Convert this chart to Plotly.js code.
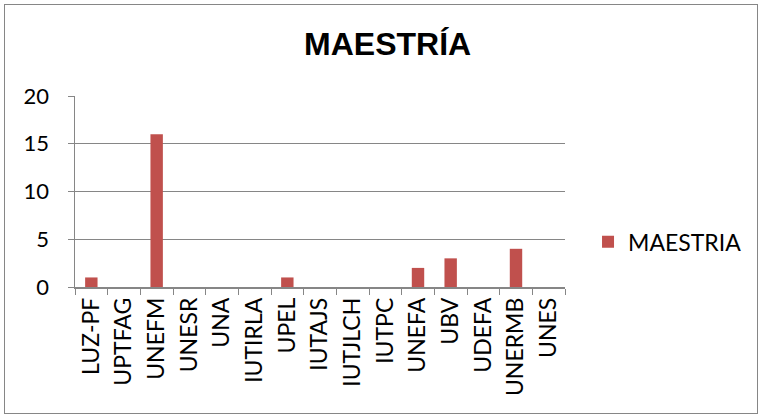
<!DOCTYPE html>
<html>
<head>
<meta charset="utf-8">
<script src="https://cdn.plot.ly/plotly-3.0.1.min.js"></script>
<style>
html,body{margin:0;padding:0;background:#fff;}
#wrap{position:relative;width:763px;height:419px;}
#chart{width:763px;height:419px;}
#frame{position:absolute;left:4px;top:4px;width:752px;height:408px;border:1.5px solid #868686;pointer-events:none;}
</style>
</head>
<body>
<div id="wrap"><div id="chart"></div><div id="frame"></div></div>
<script>
const categories = ["LUZ-PF","UPTFAG","UNEFM","UNESR","UNA","IUTIRLA","UPEL","IUTAJS","IUTJLCH","IUTPC","UNEFA","UBV","UDEFA","UNERMB","UNES"];
const maestria = [1,0,16,0,0,0,1,0,0,0,2,3,0,4,0];
const seriesName = "MAESTRIA";
const chartTitle = "MAESTRÍA";

const font = "Lato, Calibri, 'Open Sans', sans-serif";
Plotly.newPlot("chart", [{
  type: "bar",
  x: categories,
  y: maestria,
  name: seriesName,
  marker: {color: "#C0504D"},
  showlegend: true
}], {
  width: 763, height: 419,
  margin: {l: 75, r: 198, t: 96, b: 132},
  paper_bgcolor: "#fff", plot_bgcolor: "#fff",
  title: {text: "<b>" + chartTitle + "</b>", font: {family: "'Liberation Sans Narrow', 'Arial Narrow', Arial, sans-serif", size: 32, color: "#000"}, x: 0.508, xanchor: "center", y: 0.895, yanchor: "middle"},
  bargap: 0.62,
  xaxis: {
    type: "category", tickangle: -90, tickson: "boundaries",
    ticks: "outside", ticklen: 6, tickcolor: "#868686",
    showline: true, linecolor: "#868686", linewidth: 1.5,
    showgrid: false,
    tickfont: {family: font, size: 23, color: "#000"}
  },
  yaxis: {
    range: [0, 20], dtick: 5, tickmode: "linear",
    ticks: "outside", ticklen: 6, tickcolor: "#868686",
    showline: true, linecolor: "#868686", linewidth: 1.5,
    showgrid: true, gridcolor: "#868686", gridwidth: 1,
    zeroline: false, ticklabelstandoff: 14,
    tickfont: {family: font, size: 22, color: "#000"}
  },
  legend: {x: 1.047, y: 0.236, xanchor: "left", yanchor: "middle", font: {family: font, size: 23, color: "#000"}, itemwidth: 30}
}, {displayModeBar: false, staticPlot: true});
</script>
</body>
</html>
